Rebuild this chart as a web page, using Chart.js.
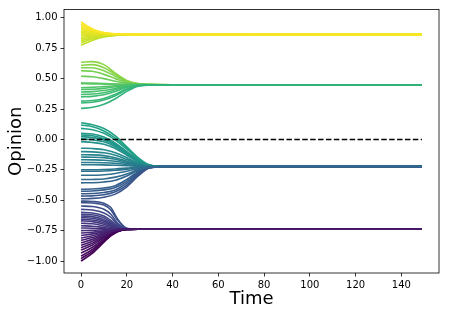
<!DOCTYPE html>
<html><head><meta charset="utf-8">
<script src="https://cdn.jsdelivr.net/npm/chart.js@4/dist/chart.umd.min.js"></script>
<style>html,body{margin:0;padding:0;background:#fff}</style>
</head><body>
<canvas id="c" width="449" height="320" style="width:449px;height:320px;display:block"></canvas>
<script>
// ---- data ----
const xTicks = [0, 20, 40, 60, 80, 100, 120, 140];
const yTicks = [-1.00, -0.75, -0.50, -0.25, 0.00, 0.25, 0.50, 0.75, 1.00];
const xLabel = 'Time';
const yLabel = 'Opinion';
const referenceLine = [[0, 0], [149, 0]];

const timesA = [0, 3, 6, 10, 15, 22, 149];
const linesA = [
  [0.966,0.930,0.900,0.880,0.868,0.864,0.863],
  [0.950,0.920,0.895,0.877,0.867,0.864,0.863],
  [0.935,0.910,0.890,0.875,0.866,0.863,0.863],
  [0.920,0.900,0.885,0.872,0.866,0.863,0.863],
  [0.905,0.893,0.880,0.870,0.865,0.863,0.863],
  [0.890,0.883,0.875,0.868,0.864,0.863,0.863],
  [0.878,0.874,0.870,0.866,0.864,0.863,0.863],
  [0.868,0.866,0.865,0.864,0.863,0.863,0.863],
  [0.855,0.857,0.859,0.861,0.862,0.863,0.863],
  [0.840,0.846,0.852,0.857,0.861,0.862,0.863],
  [0.825,0.836,0.846,0.854,0.860,0.862,0.863],
  [0.810,0.826,0.840,0.851,0.858,0.862,0.863],
  [0.795,0.815,0.832,0.848,0.857,0.862,0.863],
  [0.775,0.800,0.822,0.842,0.855,0.861,0.863]
];

const timesB = [0, 5, 10, 15, 20, 25, 32, 40, 149];
const linesB = [
  [0.255,0.265,0.290,0.335,0.395,0.438,0.449,0.450,0.450],
  [0.300,0.306,0.325,0.360,0.410,0.442,0.449,0.450,0.450],
  [0.315,0.320,0.337,0.372,0.415,0.444,0.449,0.450,0.450],
  [0.350,0.354,0.367,0.395,0.428,0.446,0.450,0.450,0.450],
  [0.370,0.373,0.384,0.408,0.434,0.447,0.450,0.450,0.450],
  [0.390,0.393,0.402,0.420,0.440,0.448,0.450,0.450,0.450],
  [0.410,0.413,0.420,0.433,0.444,0.449,0.450,0.450,0.450],
  [0.425,0.428,0.434,0.441,0.447,0.449,0.450,0.450,0.450],
  [0.458,0.457,0.455,0.453,0.452,0.451,0.450,0.450,0.450],
  [0.465,0.463,0.460,0.456,0.453,0.451,0.450,0.450,0.450],
  [0.520,0.515,0.500,0.478,0.462,0.454,0.450,0.450,0.450],
  [0.565,0.560,0.535,0.500,0.468,0.455,0.451,0.450,0.450],
  [0.590,0.590,0.565,0.520,0.474,0.456,0.451,0.450,0.450],
  [0.610,0.615,0.590,0.535,0.480,0.458,0.451,0.450,0.450],
  [0.635,0.640,0.615,0.545,0.485,0.460,0.452,0.450,0.450]
];

const timesC = [0, 5, 10, 15, 20, 25, 30, 38, 149];
const linesC = [
  [-0.330,-0.329,-0.325,-0.310,-0.285,-0.250,-0.228,-0.224,-0.224],
  [-0.488,-0.485,-0.475,-0.450,-0.390,-0.300,-0.235,-0.224,-0.224],
  [-0.466,-0.464,-0.455,-0.430,-0.375,-0.290,-0.233,-0.224,-0.224],
  [-0.447,-0.445,-0.437,-0.415,-0.360,-0.280,-0.232,-0.224,-0.224],
  [-0.426,-0.424,-0.415,-0.395,-0.345,-0.270,-0.231,-0.224,-0.224],
  [-0.410,-0.408,-0.400,-0.380,-0.330,-0.265,-0.230,-0.224,-0.224],
  [-0.357,-0.356,-0.350,-0.335,-0.300,-0.256,-0.229,-0.224,-0.224],
  [-0.295,-0.294,-0.290,-0.280,-0.262,-0.240,-0.227,-0.224,-0.224],
  [-0.262,-0.262,-0.260,-0.254,-0.244,-0.232,-0.226,-0.224,-0.224],
  [-0.249,-0.249,-0.247,-0.243,-0.236,-0.229,-0.225,-0.224,-0.224],
  [-0.208,-0.208,-0.209,-0.212,-0.216,-0.221,-0.224,-0.224,-0.224],
  [-0.190,-0.190,-0.192,-0.197,-0.207,-0.218,-0.223,-0.224,-0.224],
  [-0.167,-0.168,-0.171,-0.180,-0.196,-0.214,-0.223,-0.224,-0.224],
  [-0.145,-0.146,-0.150,-0.163,-0.187,-0.210,-0.222,-0.224,-0.224],
  [-0.126,-0.127,-0.133,-0.150,-0.178,-0.207,-0.222,-0.224,-0.224],
  [-0.100,-0.102,-0.110,-0.130,-0.165,-0.200,-0.221,-0.224,-0.224],
  [-0.072,-0.075,-0.085,-0.110,-0.150,-0.195,-0.220,-0.224,-0.224],
  [-0.018,-0.025,-0.040,-0.075,-0.130,-0.185,-0.218,-0.224,-0.224],
  [0.005,-0.003,-0.020,-0.060,-0.120,-0.180,-0.217,-0.224,-0.224],
  [0.023,0.015,-0.005,-0.050,-0.110,-0.175,-0.216,-0.224,-0.224],
  [0.037,0.030,0.005,-0.040,-0.105,-0.172,-0.215,-0.224,-0.224],
  [0.050,0.045,0.020,-0.030,-0.100,-0.170,-0.214,-0.224,-0.224],
  [0.091,0.080,0.050,-0.005,-0.080,-0.160,-0.212,-0.224,-0.224],
  [0.118,0.105,0.070,0.010,-0.070,-0.155,-0.210,-0.224,-0.224],
  [0.137,0.120,0.090,0.030,-0.060,-0.150,-0.210,-0.224,-0.224]
];

const timesD = [0, 5, 10, 13, 16, 20, 25, 149];
const linesD = [
  [-0.850,-0.822,-0.784,-0.762,-0.747,-0.739,-0.738,-0.738],
  [-1.000,-0.935,-0.845,-0.793,-0.759,-0.741,-0.738,-0.738],
  [-0.980,-0.920,-0.836,-0.789,-0.757,-0.741,-0.738,-0.738],
  [-0.960,-0.905,-0.828,-0.785,-0.756,-0.741,-0.738,-0.738],
  [-0.935,-0.887,-0.818,-0.780,-0.754,-0.740,-0.738,-0.738],
  [-0.910,-0.868,-0.808,-0.775,-0.752,-0.740,-0.738,-0.738],
  [-0.890,-0.853,-0.800,-0.771,-0.750,-0.740,-0.738,-0.738],
  [-0.870,-0.838,-0.792,-0.767,-0.749,-0.739,-0.738,-0.738],
  [-0.830,-0.807,-0.776,-0.758,-0.745,-0.739,-0.738,-0.738],
  [-0.810,-0.792,-0.768,-0.754,-0.744,-0.739,-0.738,-0.738],
  [-0.790,-0.777,-0.760,-0.750,-0.742,-0.738,-0.738,-0.738],
  [-0.770,-0.763,-0.752,-0.746,-0.741,-0.738,-0.738,-0.738],
  [-0.750,-0.748,-0.743,-0.741,-0.739,-0.738,-0.738,-0.738],
  [-0.728,-0.730,-0.734,-0.737,-0.738,-0.738,-0.738,-0.738],
  [-0.710,-0.714,-0.725,-0.732,-0.737,-0.738,-0.738,-0.738],
  [-0.689,-0.694,-0.712,-0.725,-0.735,-0.738,-0.738,-0.738],
  [-0.670,-0.676,-0.697,-0.716,-0.732,-0.738,-0.738,-0.738],
  [-0.657,-0.662,-0.685,-0.708,-0.729,-0.738,-0.738,-0.738],
  [-0.643,-0.648,-0.672,-0.700,-0.726,-0.737,-0.738,-0.738],
  [-0.630,-0.635,-0.660,-0.690,-0.722,-0.737,-0.738,-0.738],
  [-0.616,-0.620,-0.645,-0.680,-0.718,-0.737,-0.738,-0.738],
  [-0.600,-0.605,-0.630,-0.665,-0.712,-0.736,-0.738,-0.738],
  [-0.575,-0.580,-0.605,-0.640,-0.700,-0.735,-0.738,-0.738],
  [-0.548,-0.552,-0.575,-0.615,-0.690,-0.734,-0.738,-0.738],
  [-0.520,-0.523,-0.540,-0.580,-0.665,-0.732,-0.738,-0.738],
  [-0.507,-0.510,-0.525,-0.560,-0.655,-0.730,-0.738,-0.738]
];

// ---- styling ----
const VIRIDIS = ['#440154','#482475','#414487','#355f8d','#2a788e','#21918c','#22a884','#44bf70','#7ad151','#bddf26','#fde725'];
function hexToRgb(h){return [parseInt(h.slice(1,3),16),parseInt(h.slice(3,5),16),parseInt(h.slice(5,7),16)];}
function viridis(f){
  f = Math.max(0, Math.min(1, f));
  const p = f * (VIRIDIS.length - 1);
  const i = Math.min(Math.floor(p), VIRIDIS.length - 2);
  const t = p - i;
  const a = hexToRgb(VIRIDIS[i]), b = hexToRgb(VIRIDIS[i+1]);
  const c = a.map((v,k)=>Math.round(v + (b[k]-v)*t));
  return 'rgb(' + c.join(',') + ')';
}

const groups = [[timesA, linesA], [timesB, linesB], [timesC, linesC], [timesD, linesD]];
const starts = groups.flatMap(([, ls]) => ls.map(l => l[0]));
const vMin = Math.min(...starts), vMax = Math.max(...starts);

const datasets = [{
  data: referenceLine.map(([x, y]) => ({x, y})),
  borderColor: '#000', borderWidth: 1.5, borderDash: [5.5, 2.4],
  pointRadius: 0, tension: 0
}];
groups.forEach(([ts, ls]) => {
  ls.forEach(l => {
    datasets.push({
      data: ts.map((t, i) => ({x: t, y: l[i]})),
      borderColor: viridis((l[0] - vMin) / (vMax - vMin)),
      borderWidth: 1.6,
      pointRadius: 0,
      cubicInterpolationMode: 'monotone'
    });
  });
});

const frame = {
  id: 'frame',
  afterDraw(chart) {
    const {ctx, chartArea: a} = chart;
    ctx.save();
    ctx.strokeStyle = '#000';
    ctx.lineWidth = 0.8;
    ctx.strokeRect(a.left, a.top, a.right - a.left, a.bottom - a.top);
    ctx.restore();
  }
};

const tickFont = {family: 'DejaVu Sans', size: 10};
const titleFont = {family: 'DejaVu Sans', size: 18};
const fmtY = v => (v < 0 ? '\u2212' : '') + Math.abs(v).toFixed(2);

new Chart(document.getElementById('c'), {
  type: 'line',
  data: {datasets},
  options: {
    responsive: false,
    animation: false,
    devicePixelRatio: 1,
    layout: {padding: {top: 9.5, right: 10, left: 0, bottom: 0}},
    plugins: {legend: {display: false}, tooltip: {enabled: false}},
    scales: {
      x: {
        type: 'linear',
        min: -7.45, max: 156.45,
        afterBuildTicks: s => { s.ticks = xTicks.map(v => ({value: v})); },
        afterFit: s => { s.height = 47; },
        ticks: {font: tickFont, color: '#000', padding: 3, maxRotation: 0, autoSkip: false, callback: v => String(v)},
        grid: {display: true, drawOnChartArea: false, drawTicks: true, tickLength: 3.5, color: '#000', lineWidth: 0.8},
        border: {display: false},
        title: {display: true, text: xLabel, font: titleFont, color: '#000', padding: {top: 0, bottom: 10}}
      },
      y: {
        type: 'linear',
        min: -1.0985, max: 1.0685,
        afterBuildTicks: s => { s.ticks = yTicks.map(v => ({value: v})); },
        afterFit: s => { s.width = 64; },
        ticks: {font: tickFont, color: '#000', padding: 3, autoSkip: false, callback: fmtY},
        grid: {display: true, drawOnChartArea: false, drawTicks: true, tickLength: 3.5, color: '#000', lineWidth: 0.8},
        border: {display: false},
        title: {display: true, text: yLabel, font: titleFont, color: '#000', padding: {top: 6, bottom: 0}}
      }
    }
  },
  plugins: [frame]
});
</script>
</body></html>
